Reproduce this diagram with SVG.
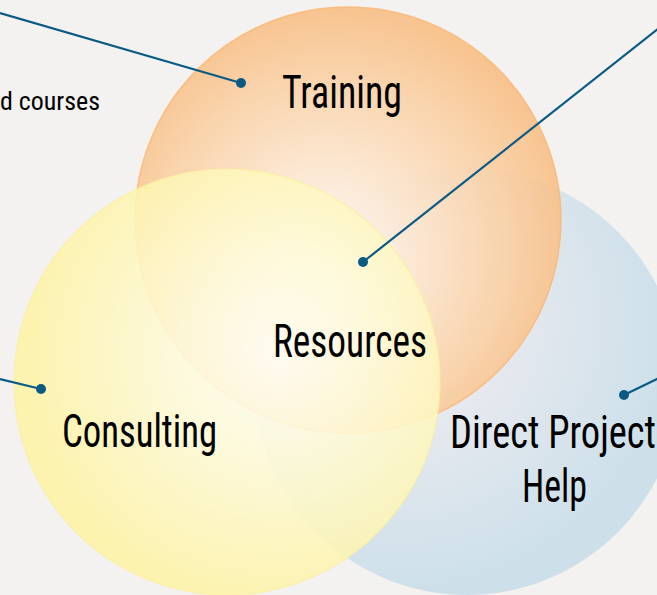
<svg xmlns="http://www.w3.org/2000/svg" width="657" height="595" viewBox="0 0 657 595">
  <defs>
    <radialGradient id="gBlue" gradientUnits="userSpaceOnUse" cx="400" cy="320" r="270">
      <stop offset="0" stop-color="#f1f1f3"/>
      <stop offset="0.45" stop-color="#e4e8ee"/>
      <stop offset="1" stop-color="#cde0ea"/>
    </radialGradient>
    <radialGradient id="gOrange" gradientUnits="userSpaceOnUse" cx="335" cy="245" r="235" fx="320" fy="265">
      <stop offset="0" stop-color="#fffbf6"/>
      <stop offset="0.3" stop-color="#fdebd8"/>
      <stop offset="0.75" stop-color="#fad0a4"/>
      <stop offset="1" stop-color="#f8bf86"/>
    </radialGradient>
    <radialGradient id="gYellow" gradientUnits="userSpaceOnUse" cx="275" cy="355" r="250">
      <stop offset="0" stop-color="#fffef6"/>
      <stop offset="0.4" stop-color="#fefad8"/>
      <stop offset="1" stop-color="#fdf3a6"/>
    </radialGradient>
    <style>
      .lbl { font-family: "Roboto Condensed", Roboto, "DejaVu Sans Condensed", sans-serif; font-weight: 400; font-size: 46px; fill: #000; }
      .small { font-family: "Roboto Condensed", Roboto, "DejaVu Sans Condensed", sans-serif; font-weight: 400; font-size: 25px; fill: #000; }
      .conn { stroke: #0b5a84; stroke-width: 2.2; fill: none; }
      .dot { fill: #0b5a84; }
    </style>
  </defs>
  <rect width="657" height="595" fill="#f3f2f0"/>

  <g id="direct-project-help">
    <circle cx="467" cy="382" r="213" fill="url(#gBlue)"/>
  </g>
  <g id="training">
    <circle cx="348" cy="220" r="213" fill="url(#gOrange)" fill-opacity="0.9" stroke="#fab676" stroke-width="1.5" stroke-opacity="0.8"/>
  </g>
  <g id="consulting">
    <circle cx="227" cy="382" r="213" fill="url(#gYellow)" fill-opacity="0.88" stroke="#fbef9c" stroke-width="1.2" stroke-opacity="0.8"/>
  </g>

  <g id="labels">
    <text class="lbl" x="282" y="108" textLength="120" lengthAdjust="spacingAndGlyphs">Training</text>
    <text class="lbl" x="273" y="357" textLength="154" lengthAdjust="spacingAndGlyphs">Resources</text>
    <text class="lbl" x="62" y="447" textLength="155" lengthAdjust="spacingAndGlyphs">Consulting</text>
    <text class="lbl" x="450" y="448" textLength="206" lengthAdjust="spacingAndGlyphs">Direct Project</text>
    <text class="lbl" x="522" y="502" textLength="65" lengthAdjust="spacingAndGlyphs">Help</text>
    <text class="small" x="0" y="110" textLength="100" lengthAdjust="spacingAndGlyphs">d courses</text>
  </g>

  <g id="connectors">
    <line class="conn" x1="0" y1="13" x2="241" y2="83"/>
    <circle class="dot" cx="241" cy="83" r="5"/>
    <line class="conn" x1="659" y1="28" x2="363" y2="262"/>
    <circle class="dot" cx="363" cy="262" r="5"/>
    <line class="conn" x1="0" y1="379" x2="41" y2="389"/>
    <circle class="dot" cx="41" cy="389" r="5"/>
    <line class="conn" x1="659" y1="378" x2="624" y2="395"/>
    <circle class="dot" cx="624" cy="395" r="5"/>
  </g>
</svg>
